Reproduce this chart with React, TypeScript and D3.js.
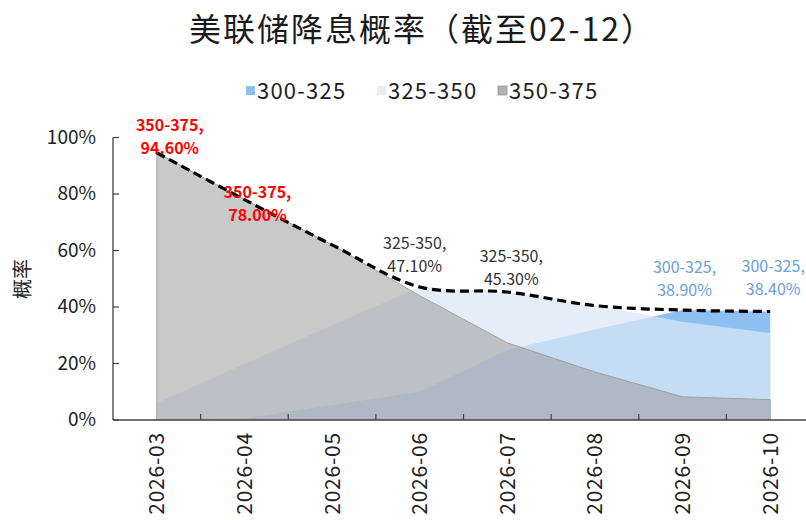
import React from "react";
import * as d3 from "d3";

// 月份
const categories = ["2026-03", "2026-04", "2026-05", "2026-06", "2026-07", "2026-08", "2026-09", "2026-10"];
// 各利率区间概率 (%)
const p300_325 = [0, 0.5, 5.3, 10.0, 24.8, 32.0, 38.9, 38.4];
const p325_350 = [6.0, 19.8, 33.5, 47.1, 45.3, 40.5, 34.8, 30.8];
const p350_375 = [94.6, 78.0, 62.0, 44.0, 27.3, 17.0, 8.2, 7.2];
const yTicks = [0, 20, 40, 60, 80, 100];

const seriesNames = ["300-325", "325-350", "350-375"];
const seriesData = [p300_325, p325_350, p350_375];

// 需要标注的点: [月份下标, 序列下标]
const labelled = [[0, 2], [1, 2], [3, 1], [4, 1], [6, 0], [7, 0]];

const W = 806, H = 520;
const left = 113, bottom = 420, top = 137.5;

const fills = [
  { fill: "#8dbff3", opacity: 1 },
  { fill: "#dae6f5", opacity: 0.73 },
  { fill: "#9d9d9d", opacity: 0.55 },
];
const labelColors = ["#6a9fd8", "#333333", "#ff0000"];
// 标签相对数据点的偏移
const labelOffsets = [
  { dx: 13, dy: -22 },
  { dx: 13, dy: -2 },
  { dx: -5, dy: -38 },
  { dx: 4, dy: -30 },
  { dx: 2, dy: -37 },
  { dx: 3, dy: -40 },
];

const font = "'Noto Sans CJK SC', 'Noto Sans', sans-serif";

export default function App() {
  const x = d3.scaleBand<string>().domain(categories).range([left, 814]);
  const cx = (c: string) => (x(c) as number) + x.bandwidth() / 2;
  const y = d3.scaleLinear().domain([0, 100]).range([bottom, top]);

  const maxLine = categories.map((c, i) => ({ c, v: d3.max(seriesData, (s) => s[i]) as number }));

  const area = d3
    .area<number>()
    .x((_, i) => cx(categories[i]))
    .y0(y(0))
    .y1((d) => y(d));

  const topLine = d3
    .line<{ c: string; v: number }>()
    .x((d) => cx(d.c))
    .y((d) => y(d.v))
    .curve(d3.curveCatmullRom.alpha(0.5));

  const grayOutline = d3
    .line<number>()
    .x((_, i) => cx(categories[i]))
    .y((d) => y(d));

  const legendX = [246, 377, 498];

  return (
    <svg width={W} height={H} style={{ position: "absolute", left: 0, top: 0, fontFamily: font }}>
      <rect width={W} height={H} fill="#fff" />
      <text x={422} y={41} textAnchor="middle" fontSize={32} letterSpacing={2} fill="#1a1a1a">
        美联储降息概率（截至02-12）
      </text>

      {seriesNames.map((n, i) => (
        <g key={n} transform={`translate(${legendX[i]},0)`}>
          <rect x={0} y={86} width={9} height={9} fill={fills[i].fill} fillOpacity={i === 2 ? 0.8 : fills[i].opacity} stroke={i === 2 ? "#999" : "none"} strokeWidth={0.8} />
          <text x={11} y={99} fontSize={22} letterSpacing={1.2} fill="#222">{n}</text>
        </g>
      ))}

      {seriesData.map((s, i) => (
        <path key={i} d={area(s) || ""} fill={fills[i].fill} fillOpacity={fills[i].opacity} />
      ))}
      <path
        d={`M${cx(categories[0])},${y(0)}L${(grayOutline(p350_375) || "").slice(1)}L${cx(categories[categories.length - 1])},${y(0)}`}
        fill="none"
        stroke="#a0a0a0"
        strokeWidth={1}
      />

      <path d={topLine(maxLine) || ""} fill="none" stroke="#000" strokeWidth={3.2} strokeDasharray="9,5" />

      {/* axes */}
      <line x1={left} x2={W} y1={bottom} y2={bottom} stroke="#404040" strokeWidth={1.3} />
      <line x1={left} x2={left} y1={top} y2={bottom} stroke="#404040" strokeWidth={1.3} />
      {yTicks.map((t) => (
        <g key={t}>
          <line x1={left} x2={left + 6} y1={y(t)} y2={y(t)} stroke="#404040" strokeWidth={1.2} />
          <text x={96} y={y(t) + 6} textAnchor="end" fontSize={19} fill="#222">{t}%</text>
        </g>
      ))}
      {categories.slice(1).map((c) => (
        <line key={c} x1={x(c)} x2={x(c)} y1={bottom} y2={bottom - 6} stroke="#404040" strokeWidth={1.2} />
      ))}
      {categories.map((c) => (
        <text key={c} transform={`translate(${cx(c) + 7.5},${432}) rotate(-90)`} textAnchor="end" fontSize={21} letterSpacing={0.8} fill="#222">
          {c}
        </text>
      ))}
      <text transform={`translate(${30},${279}) rotate(-90)`} textAnchor="middle" fontSize={20} fill="#222">
        概率
      </text>

      {labelled.map(([ci, si], k) => {
        const px = cx(categories[ci]) + labelOffsets[k].dx;
        const py = y(seriesData[si][ci]) + labelOffsets[k].dy;
        const bold = si === 2;
        return (
          <g key={k} fill={labelColors[si]} fontSize={16} fontWeight={bold ? 700 : 400} textAnchor="middle">
            <text x={px} y={py}>{seriesNames[si]},</text>
            <text x={px} y={py + 23}>{seriesData[si][ci].toFixed(2)}%</text>
          </g>
        );
      })}
    </svg>
  );
}
